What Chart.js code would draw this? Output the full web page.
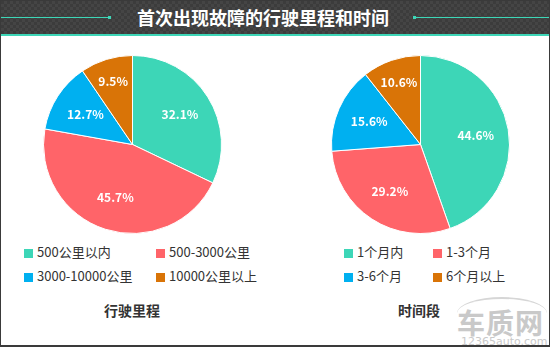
<!DOCTYPE html>
<html>
<head>
<meta charset="utf-8">
<script src="https://cdn.jsdelivr.net/npm/chart.js@4.4.1/dist/chart.umd.min.js"></script>
<style>
  html, body { margin: 0; padding: 0; background: #fff; }
  #wrap {
    position: relative; width: 550px; height: 347px; overflow: hidden;
    box-sizing: border-box; border: 1px solid #3a3a3a; border-bottom-width: 2px;
    background: #fff; font-family: "Noto Sans CJK SC", "Noto Sans", sans-serif;
  }
  #titlebar {
    position: absolute; left: 0; top: 0; width: 550px; height: 33px;
    background-color: #3c3c3c;
    background-image:
      linear-gradient(45deg, #454545 25%, transparent 25%, transparent 75%, #454545 75%),
      linear-gradient(45deg, #454545 25%, transparent 25%, transparent 75%, #454545 75%);
    background-size: 6px 6px;
    background-position: 0 0, 3px 3px;
    border-bottom: 2px solid #3dd6b7;
  }
  #titlebar .txt {
    position: absolute; left: 0; width: 524px; top: 3px; text-align: center;
    color: #fff; font-size: 18px; font-weight: bold; line-height: 26px;
  }
  .rule { position: absolute; top: 16px; height: 1px; background: #3dd6b7; }
  .rule i { position: absolute; top: -1px; width: 3px; height: 3px; background: #3dd6b7; }
  canvas.pie { position: absolute; }
  .legend { position: absolute; font-size: 13px; color: #333; }
  .legend div { position: absolute; white-space: nowrap; line-height: 14px; }
  .legend span { display: inline-block; width: 9px; height: 9px; margin-right: 4px; vertical-align: -1px; }
  .sub { position: absolute; width: 160px; text-align: center; font-size: 14px; font-weight: bold; color: #333; }
  #mark { position: absolute; left: 452px; top: 300px; color: #c9c9c9; }
</style>
</head>
<body>
<div id="wrap">
  <div id="titlebar">
    <div class="rule" style="left:0;width:110px"><i style="right:0"></i></div>
    <div class="rule" style="left:412px;width:138px"><i style="left:0"></i></div>
    <div class="txt">首次出现故障的行驶里程和时间</div>
  </div>

  <canvas class="pie" id="mileage-chart" width="179" height="179" style="left:42px;top:54px"></canvas>
  <canvas class="pie" id="period-chart" width="179" height="179" style="left:330px;top:54px"></canvas>

  <div class="legend" id="mileage-legend"></div>
  <div class="legend" id="period-legend"></div>

  <div class="sub" style="left:51px;top:299px">行驶里程</div>
  <div class="sub" style="left:338px;top:299px">时间段</div>

  <div id="mark">
    <div style="position:absolute;left:4px;top:-4px;width:90px;height:30px;border-top:2px solid #d6d6d6;border-radius:60% 60% 0 0"></div>
    <div style="position:absolute;left:4px;top:1px;font-size:28px;font-weight:bold;letter-spacing:1px;white-space:nowrap">车质网</div>
    <div style="position:absolute;left:8px;top:34px;font-size:11px;font-family:'DejaVu Sans';white-space:nowrap">12365auto.com</div>
  </div>
</div>

<script>
// slice colours shared by both pies
const sliceColors = ['#3dd6b7', '#ff6469', '#00b0f0', '#d97407'];

// mileage at first fault
const mileageLabels = ['500公里以内', '500-3000公里', '3000-10000公里', '10000公里以上'];
const mileageValues = [32.1, 45.7, 12.7, 9.5];

// time at first fault
const periodLabels = ['1个月内', '1-3个月', '3-6个月', '6个月以上'];
const periodValues = [44.6, 29.2, 15.6, 10.6];

// white percent text inside each slice
const sliceLabels = {
    id: 'sliceLabels',
    afterDatasetsDraw(chart) {
        const ctx = chart.ctx;
        const meta = chart.getDatasetMeta(0);
        const values = chart.data.datasets[0].data;
        ctx.save();
        ctx.fillStyle = '#fff';
        ctx.font = 'bold 12px "Noto Sans CJK SC", "Noto Sans", sans-serif';
        ctx.textAlign = 'center';
        ctx.textBaseline = 'middle';
        meta.data.forEach((arc, i) => {
            const mid = (arc.startAngle + arc.endAngle) / 2;
            // thin slices get their label pushed further out
            const f = values[i] < 12 ? 0.74 : 0.63;
            const x = arc.x + Math.cos(mid) * arc.outerRadius * f;
            const y = arc.y + Math.sin(mid) * arc.outerRadius * f;
            ctx.fillText(values[i].toFixed(1) + '%', x, y);
        });
        ctx.restore();
    }
};

function makePie(canvasId, labels, values) {
    return new Chart(document.getElementById(canvasId), {
        type: 'pie',
        data: {
            labels: labels,
            datasets: [{
                data: values,
                backgroundColor: sliceColors,
                borderColor: '#fff',
                borderWidth: 1
            }]
        },
        options: {
            responsive: false,
            animation: false,
            layout: { padding: 0 },
            plugins: {
                legend: { display: false },
                tooltip: { enabled: false }
            }
        },
        plugins: [sliceLabels]
    });
}

// 2x2 legend grid under each pie
function makeLegend(elId, labels, left, colGap) {
    const el = document.getElementById(elId);
    el.style.left = left + 'px';
    el.style.top = '244px';
    labels.forEach((text, i) => {
        const item = document.createElement('div');
        item.style.left = (i % 2) * colGap + 'px';
        item.style.top = Math.floor(i / 2) * 24 + 'px';
        item.innerHTML = '<span style="background:' + sliceColors[i] + '"></span>' + text;
        el.appendChild(item);
    });
}

let mileageChart = makePie('mileage-chart', mileageLabels, mileageValues);
let periodChart = makePie('period-chart', periodLabels, periodValues);

makeLegend('mileage-legend', mileageLabels, 23, 132);
makeLegend('period-legend', periodLabels, 343, 89);
</script>
</body>
</html>
